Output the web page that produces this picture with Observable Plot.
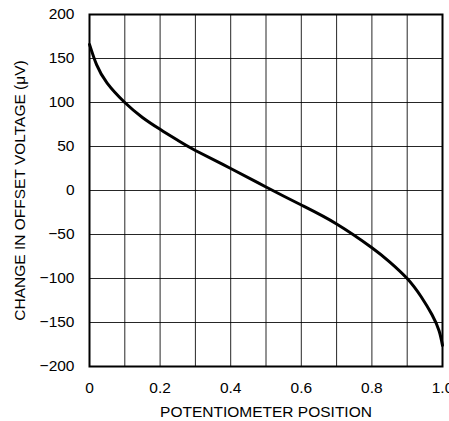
<!DOCTYPE html>
<html>
<head>
<meta charset="utf-8">
<script src="https://cdn.jsdelivr.net/npm/d3@7"></script>
<script src="https://cdn.jsdelivr.net/npm/@observablehq/plot@0.6"></script>
<style>
  html, body { margin: 0; padding: 0; background: #fff; }
</style>
</head>
<body>
<div id="chart"></div>
<script>
// Potentiometer position (x) and change in offset voltage in µV (y)
const position = [0, 0.02, 0.05, 0.1, 0.15, 0.2, 0.25, 0.3, 0.4, 0.5, 0.6, 0.7, 0.8, 0.85, 0.9, 0.94, 0.97, 0.99, 1.0];
const offsetChange = [166, 143, 122, 100, 83, 69.5, 57, 45.5, 25, 4, -16.5, -38, -65, -81, -100, -121, -141, -159, -176];

const xTicks = [0, 0.2, 0.4, 0.6, 0.8, 1.0];
const xTickLabels = ["0", "0.2", "0.4", "0.6", "0.8", "1.0"];
const xGrid = [0, 0.1, 0.2, 0.3, 0.4, 0.5, 0.6, 0.7, 0.8, 0.9, 1.0];
const yTicks = [-200, -150, -100, -50, 0, 50, 100, 150, 200];

const xTitle = "POTENTIOMETER POSITION";
const yTitle = "CHANGE IN OFFSET VOLTAGE (μV)";

const data = position.map((p, i) => ({x: p, y: offsetChange[i]}));

const chart = Plot.plot({
  width: 449,
  height: 421,
  marginLeft: 89,
  marginRight: 7,
  marginTop: 14,
  marginBottom: 55,
  style: {fontFamily: "'Liberation Sans', Arial, sans-serif", fontSize: "15.5px", color: "#000", background: "#fff"},
  x: {domain: [0, 1]},
  y: {domain: [-200, 200]},
  marks: [
    Plot.ruleX(xGrid, {stroke: "#000", strokeWidth: 1, strokeOpacity: 0.85}),
    Plot.ruleY(yTicks, {stroke: "#000", strokeWidth: 1, strokeOpacity: 0.85}),
    Plot.frame({stroke: "#000", strokeWidth: 2}),
    Plot.line(data, {x: "x", y: "y", stroke: "#000", strokeWidth: 3, curve: "natural"}),
    Plot.axisX(xTicks, {tickSize: 0, tickPadding: 15, tickFormat: (d, i) => xTickLabels[i], label: null}),
    Plot.axisY(yTicks, {tickSize: 0, tickPadding: 15, label: null}),
    Plot.text([xTitle], {frameAnchor: "bottom", dy: 50, lineAnchor: "bottom", text: d => d, fill: "#000"}),
    Plot.text([yTitle], {frameAnchor: "left", dx: -69, rotate: -90, textAnchor: "middle", text: d => d, fill: "#000"})
  ]
});
document.getElementById("chart").appendChild(chart);
</script>
</body>
</html>
